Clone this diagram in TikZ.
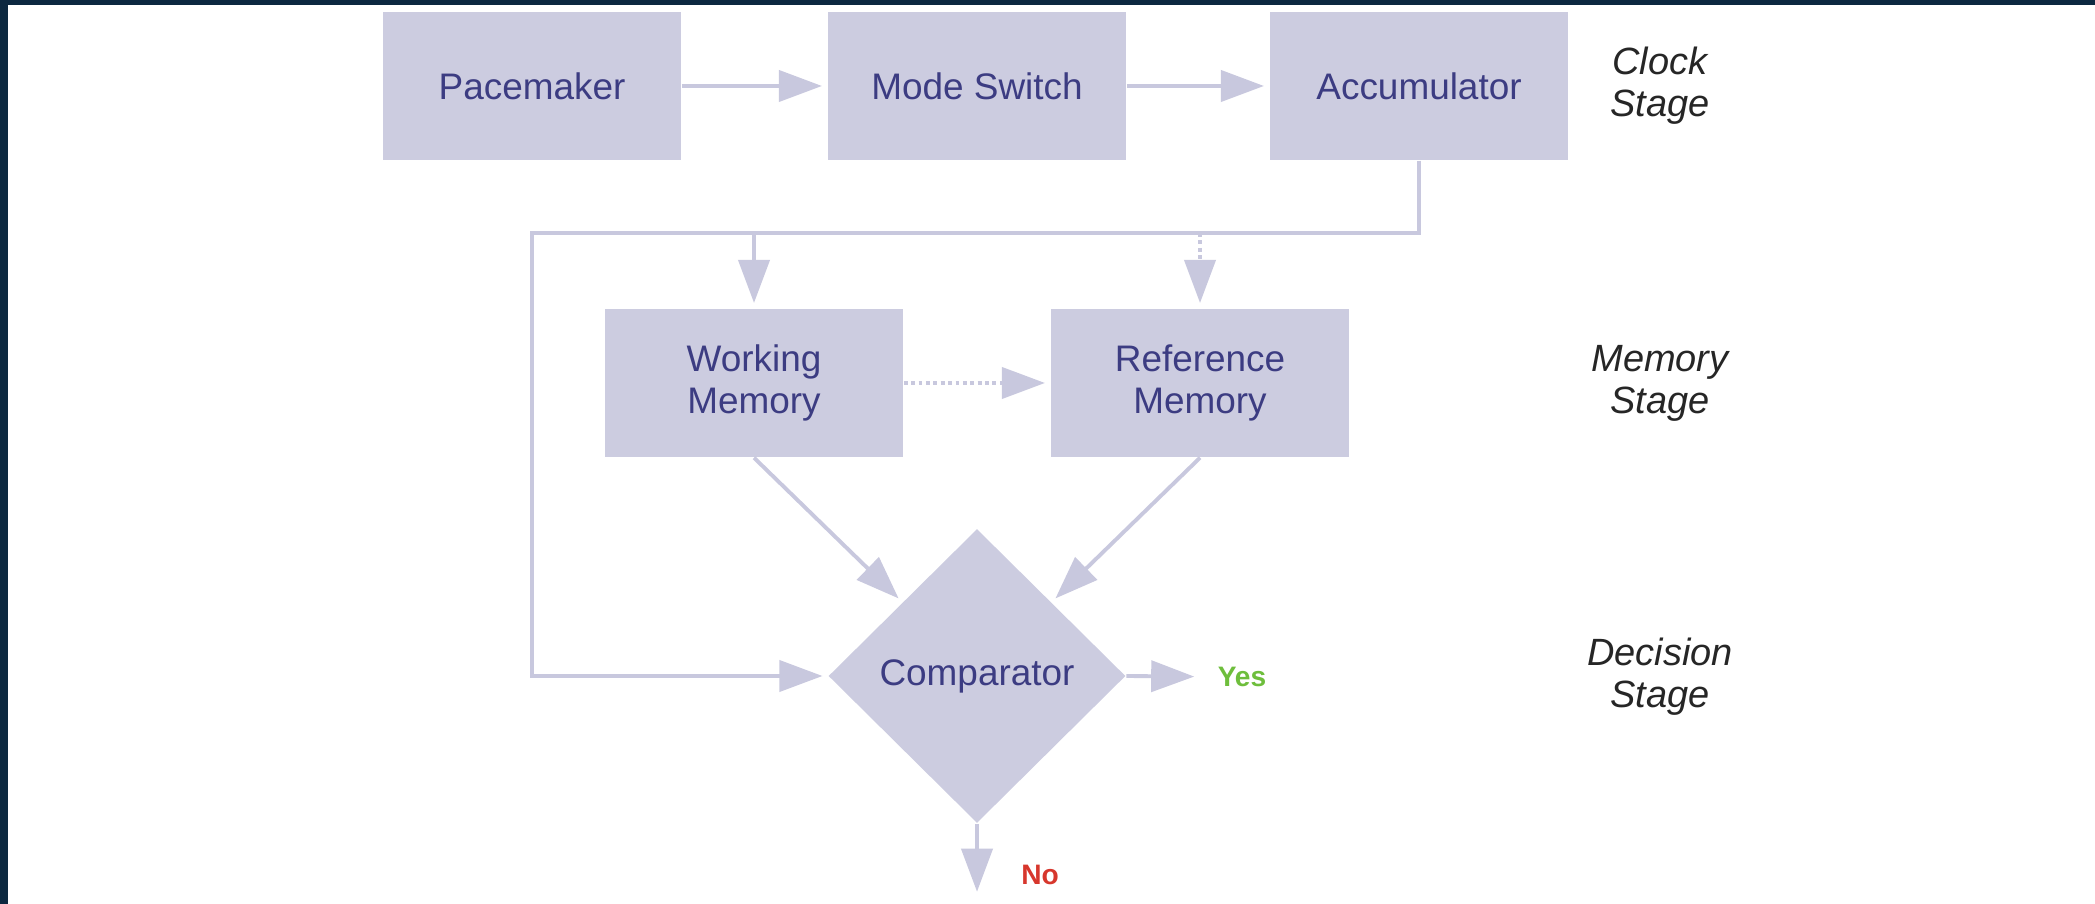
\documentclass[tikz,border=0pt]{standalone}
\usepackage{fontspec}
\setmainfont{Liberation Sans}
\usetikzlibrary{arrows.meta,shapes.geometric}

\definecolor{boxfill}{RGB}{204,204,224}
\definecolor{linegray}{RGB}{200,200,222}
\definecolor{boxtext}{RGB}{60,60,130}
\definecolor{framenavy}{RGB}{12,40,64}
\definecolor{yesgreen}{RGB}{110,190,60}
\definecolor{nored}{RGB}{215,55,45}

\tikzset{
  stagebox/.style={rectangle, fill=boxfill, minimum width=2.98cm, minimum height=1.48cm, inner sep=0pt, align=center, text=boxtext, font=\fontsize{10.5}{11.7}\selectfont},
  decider/.style={diamond, fill=boxfill, minimum width=2.97cm, minimum height=2.94cm, inner sep=0pt, text=boxtext, font=\fontsize{10.5}{11.7}\selectfont},
  stagelabel/.style={align=center, text=black!85, font=\fontsize{10.8}{12}\selectfont\itshape},
  flow/.style={draw=linegray, line width=1.1pt, shorten >=1.5pt, -{Triangle[length=4.3mm,width=3.1mm]}},
  answer/.style={inner sep=5pt, font=\fontsize{8}{9}\selectfont\bfseries}
}

\begin{document}
\begin{tikzpicture}[x=0.01cm, y=-0.01cm]
        \fill[framenavy] (0,0) rectangle (2095,904);
        \fill[white] (8,5) rectangle (2095,904);
        \useasboundingbox (0,0) rectangle (2095,904);

        \node[stagebox] (pace) at (532,86) {Pacemaker};
        \node[stagebox] (mode) at (977,86) {Mode Switch};
        \node[stagebox] (acc) at (1419,86) {Accumulator};
        \node[stagebox] (work) at (754,383) {Working\\Memory};
        \node[stagebox] (ref) at (1200,383) {Reference\\Memory};
        \node[decider] (comp) at (977,676) {Comparator};
        \node[answer, text=yesgreen] (yes) at (1242,677) {Yes};
        \node[answer, text=nored, anchor=west] (no) at (1003,875) {No};
        \coordinate (busleft) at (532,233);
        \coordinate (exit) at (977,897);

        \node[stagelabel] (clock) at (1660,86) {Clock\\Stage};
        \node[stagelabel] (memory) at (1660,383) {Memory\\Stage};
        \node[stagelabel] (decision) at (1660,677) {Decision\\Stage};

        \draw[flow] (pace) -- (mode);
        \draw[flow] (mode) -- (acc);
        \draw[flow] (acc.south) |- (busleft) |- (comp.west);
        \draw[flow] (work.north |- busleft) -- (work.north);
        \draw[flow, densely dotted] (ref.north |- busleft) -- (ref.north);
        \draw[flow, densely dotted] (work) -- (ref);
        \draw[flow] (work.south) -- (comp.north west);
        \draw[flow] (ref.south) -- (comp.north east);
        \draw[flow] (comp.east) -- (yes);
        \draw[flow] (comp.south) -- (exit);
    \end{tikzpicture}
\end{document}
